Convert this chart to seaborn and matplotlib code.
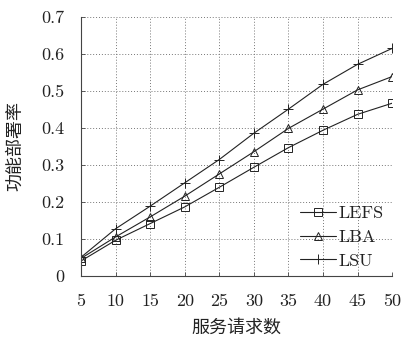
import matplotlib
matplotlib.use("Agg")
import matplotlib.pyplot as plt
import seaborn as sns
import pandas as pd

x_vals = [5, 10, 15, 20, 25, 30, 35, 40, 45, 50]
lefs = [0.040, 0.096, 0.141, 0.186, 0.239, 0.293, 0.346, 0.393, 0.436, 0.466]
lba = [0.047, 0.105, 0.159, 0.215, 0.275, 0.335, 0.398, 0.450, 0.502, 0.538]
lsu = [0.050, 0.127, 0.188, 0.251, 0.314, 0.385, 0.450, 0.517, 0.571, 0.614]
series_names = ["LEFS", "LBA", "LSU"]
series_markers = ["s", "^", "+"]
y_ticks = [0, 0.1, 0.2, 0.3, 0.4, 0.5, 0.6, 0.7]
y_tick_labels = ["0", "0.1", "0.2", "0.3", "0.4", "0.5", "0.6", "0.7"]

sns.set_theme(style="white")
plt.rcParams["font.family"] = ["cmr10", "DejaVu Serif"]
plt.rcParams["axes.formatter.use_mathtext"] = True

fig = plt.figure(figsize=(4.03, 3.38), dpi=100)
ax = fig.add_axes([0.201, 0.184, 0.772, 0.767])

col = "#222222"
for name, vals, mk in zip(series_names, [lefs, lba, lsu], series_markers):
    d = pd.DataFrame({"x": x_vals, "y": vals})
    sns.lineplot(data=d, x="x", y="y", color=col, linewidth=0.8,
                 marker=mk, markersize=5.5 if mk != "+" else 7,
                 markerfacecolor="none", markeredgecolor=col,
                 markeredgewidth=0.7, label=name, ax=ax)

ax.set_xlim(5, 50)
ax.set_ylim(0, 0.7)
ax.set_xticks(x_vals)
ax.set_xticklabels([str(v) for v in x_vals], fontsize=13)
ax.set_yticks(y_ticks)
ax.set_yticklabels(y_tick_labels, fontsize=13)
ax.grid(True, linestyle=(0, (1, 2)), color="#777777", linewidth=0.7)
for s in ["top", "right"]:
    ax.spines[s].set_visible(False)
for s in ["left", "bottom"]:
    ax.spines[s].set_color("#444444")
    ax.spines[s].set_linewidth(0.8)
ax.tick_params(direction="in", length=3, width=0.6, color="#444444",
               left=True, bottom=True, labelcolor="#222222")
ax.tick_params(axis="y", pad=12)
ax.tick_params(axis="x", pad=13)

ax.set_xlabel("服务请求数", family=["Noto Sans CJK SC"], fontsize=13, labelpad=7, color="#222222")
ax.set_ylabel("功能部署率", family=["Noto Sans CJK SC"], fontsize=13, labelpad=12, color="#222222")

handles, labels = ax.get_legend_handles_labels()
leg = ax.legend(handles, labels, loc="lower right", bbox_to_anchor=(0.995, 0.0),
                frameon=False, fontsize=13,
                handlelength=2.0, handletextpad=0.1, labelspacing=0.45,
                borderaxespad=0.0)
for t in leg.get_texts():
    t.set_color("#222222")

fig.savefig("out.png", dpi=100)
